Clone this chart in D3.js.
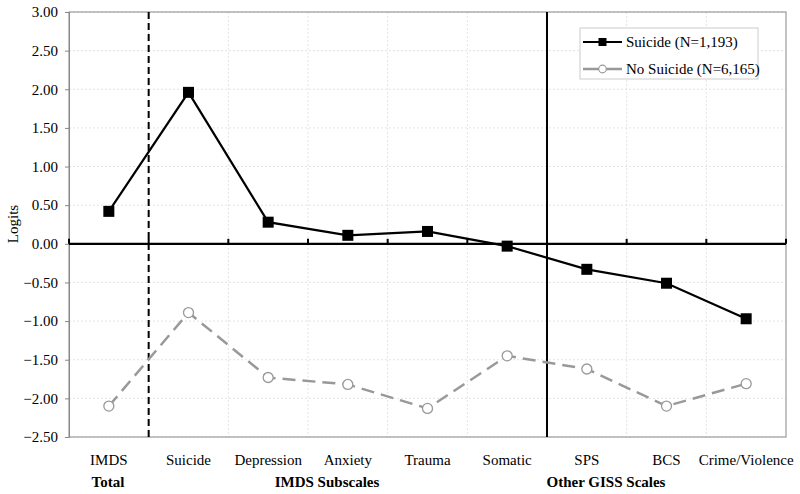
<!DOCTYPE html>
<html><head><meta charset="utf-8">
<script src="https://cdn.jsdelivr.net/npm/d3@7"></script>
<style>body{margin:0;background:#fff} svg text{font-family:"Liberation Serif","DejaVu Serif",serif}</style>
</head><body><svg id="c" width="800" height="494"></svg>
<script>
const categories = ["IMDS","Suicide","Depression","Anxiety","Trauma","Somatic","SPS","BCS","Crime/Violence"];
const suicide = [0.42,1.96,0.28,0.11,0.16,-0.03,-0.33,-0.51,-0.97];
const noSuicide = [-2.10,-0.89,-1.73,-1.82,-2.13,-1.45,-1.62,-2.10,-1.81];
const yTicks = [3,2.5,2,1.5,1,0.5,0,-0.5,-1,-1.5,-2,-2.5];
const seriesNames = ["Suicide (N=1,193)","No Suicide (N=6,165)"];
const groups = [{label:"Total", x:108},{label:"IMDS Subscales", x:327},{label:"Other GISS Scales", x:606}];

const FONT = "Liberation Serif";
const svg = d3.select("#c");
const L=69, R=786, T=12, B=437;
const x = d3.scaleBand().domain(categories).range([L,R]).padding(0);
const y = d3.scaleLinear().domain([-2.5,3]).range([B,T]);
const cx = d => x(d)+x.bandwidth()/2;

// gridlines
svg.append("g").selectAll("line").data(yTicks).join("line")
  .attr("x1",L).attr("x2",R).attr("y1",d=>y(d)).attr("y2",d=>y(d))
  .attr("stroke","#e4e4e4").attr("stroke-dasharray","2,2");
svg.append("g").selectAll("line").data(categories.slice(1)).join("line")
  .attr("x1",d=>x(d)).attr("x2",d=>x(d)).attr("y1",T).attr("y2",B)
  .attr("stroke","#e4e4e4").attr("stroke-dasharray","2,2");

// frame
svg.append("rect").attr("x",L).attr("y",T).attr("width",R-L).attr("height",B-T)
  .attr("fill","none").attr("stroke","#888").attr("stroke-width",1);

// y axis
const ya = svg.append("g").attr("transform",`translate(${L},0)`)
  .call(d3.axisLeft(y).tickValues(yTicks).tickFormat(d3.format(".2f")).tickSize(4).tickPadding(7));
ya.attr("font-family",FONT);
ya.select(".domain").attr("stroke","#888");
ya.selectAll(".tick line").attr("stroke","#888");
ya.selectAll("text").attr("font-size",15).attr("fill","#000").attr("font-family",FONT);

svg.append("text").attr("transform",`translate(18,224) rotate(-90)`)
  .attr("text-anchor","middle").attr("font-size",15).attr("font-family",FONT).text("Logits");

// zero axis with ticks
svg.append("line").attr("x1",L).attr("x2",R).attr("y1",y(0)).attr("y2",y(0))
  .attr("stroke","#000").attr("stroke-width",2.2);
const bounds = categories.map(c=>x(c)).concat([R]);
svg.append("g").selectAll("line").data(bounds).join("line")
  .attr("x1",d=>d).attr("x2",d=>d).attr("y1",y(0)-5).attr("y2",y(0))
  .attr("stroke","#000").attr("stroke-width",2);

// separators
svg.append("line").attr("x1",x("Suicide")).attr("x2",x("Suicide")).attr("y1",T).attr("y2",B)
  .attr("stroke","#000").attr("stroke-width",2).attr("stroke-dasharray","7,4");
svg.append("line").attr("x1",x("SPS")).attr("x2",x("SPS")).attr("y1",T).attr("y2",B)
  .attr("stroke","#000").attr("stroke-width",2);

// category labels
svg.append("g").selectAll("text").data(categories).join("text")
  .attr("x",d=>cx(d)).attr("y",465).attr("text-anchor","middle").attr("font-size",15)
  .attr("font-family",FONT).text(d=>d);
svg.append("g").selectAll("text").data(groups).join("text")
  .attr("x",d=>d.x).attr("y",487).attr("text-anchor","middle").attr("font-size",15)
  .attr("font-family",FONT).attr("font-weight","bold").text(d=>d.label);

const line = d3.line().x((d,i)=>cx(categories[i])).y(d=>y(d));
// no suicide
svg.append("path").datum(noSuicide).attr("d",line).attr("fill","none")
  .attr("stroke","#999").attr("stroke-width",2.5).attr("stroke-dasharray","13,7");
svg.append("g").selectAll("circle").data(noSuicide).join("circle")
  .attr("cx",(d,i)=>cx(categories[i])).attr("cy",d=>y(d)).attr("r",5)
  .attr("fill","#fff").attr("stroke","#999").attr("stroke-width",1.3);
// suicide
svg.append("path").datum(suicide).attr("d",line).attr("fill","none")
  .attr("stroke","#000").attr("stroke-width",2.2);
svg.append("g").selectAll("rect").data(suicide).join("rect")
  .attr("x",(d,i)=>cx(categories[i])-5.5).attr("y",d=>y(d)-5.5).attr("width",11).attr("height",11)
  .attr("fill","#000");

// legend
const lg = svg.append("g");
lg.append("rect").attr("x",580).attr("y",28).attr("width",178).attr("height",51)
  .attr("fill","#fff").attr("stroke","#ccc");
const rows=[{y:42,c:"#000",sym:"sq"},{y:69,c:"#999",sym:"ci"}];
rows.forEach((r,i)=>{
  lg.append("line").attr("x1",583).attr("x2",622).attr("y1",r.y).attr("y2",r.y)
    .attr("stroke",r.c).attr("stroke-width",i?2.5:2.2);
  if(r.sym==="sq") lg.append("rect").attr("x",598.5).attr("y",r.y-4).attr("width",8).attr("height",8).attr("fill","#000");
  else lg.append("circle").attr("cx",602.5).attr("cy",r.y).attr("r",3.8).attr("fill","#fff").attr("stroke","#999").attr("stroke-width",1.2);
  lg.append("text").attr("x",626).attr("y",r.y+5).attr("font-size",15).attr("font-family",FONT).text(seriesNames[i]);
});
</script></body></html>
